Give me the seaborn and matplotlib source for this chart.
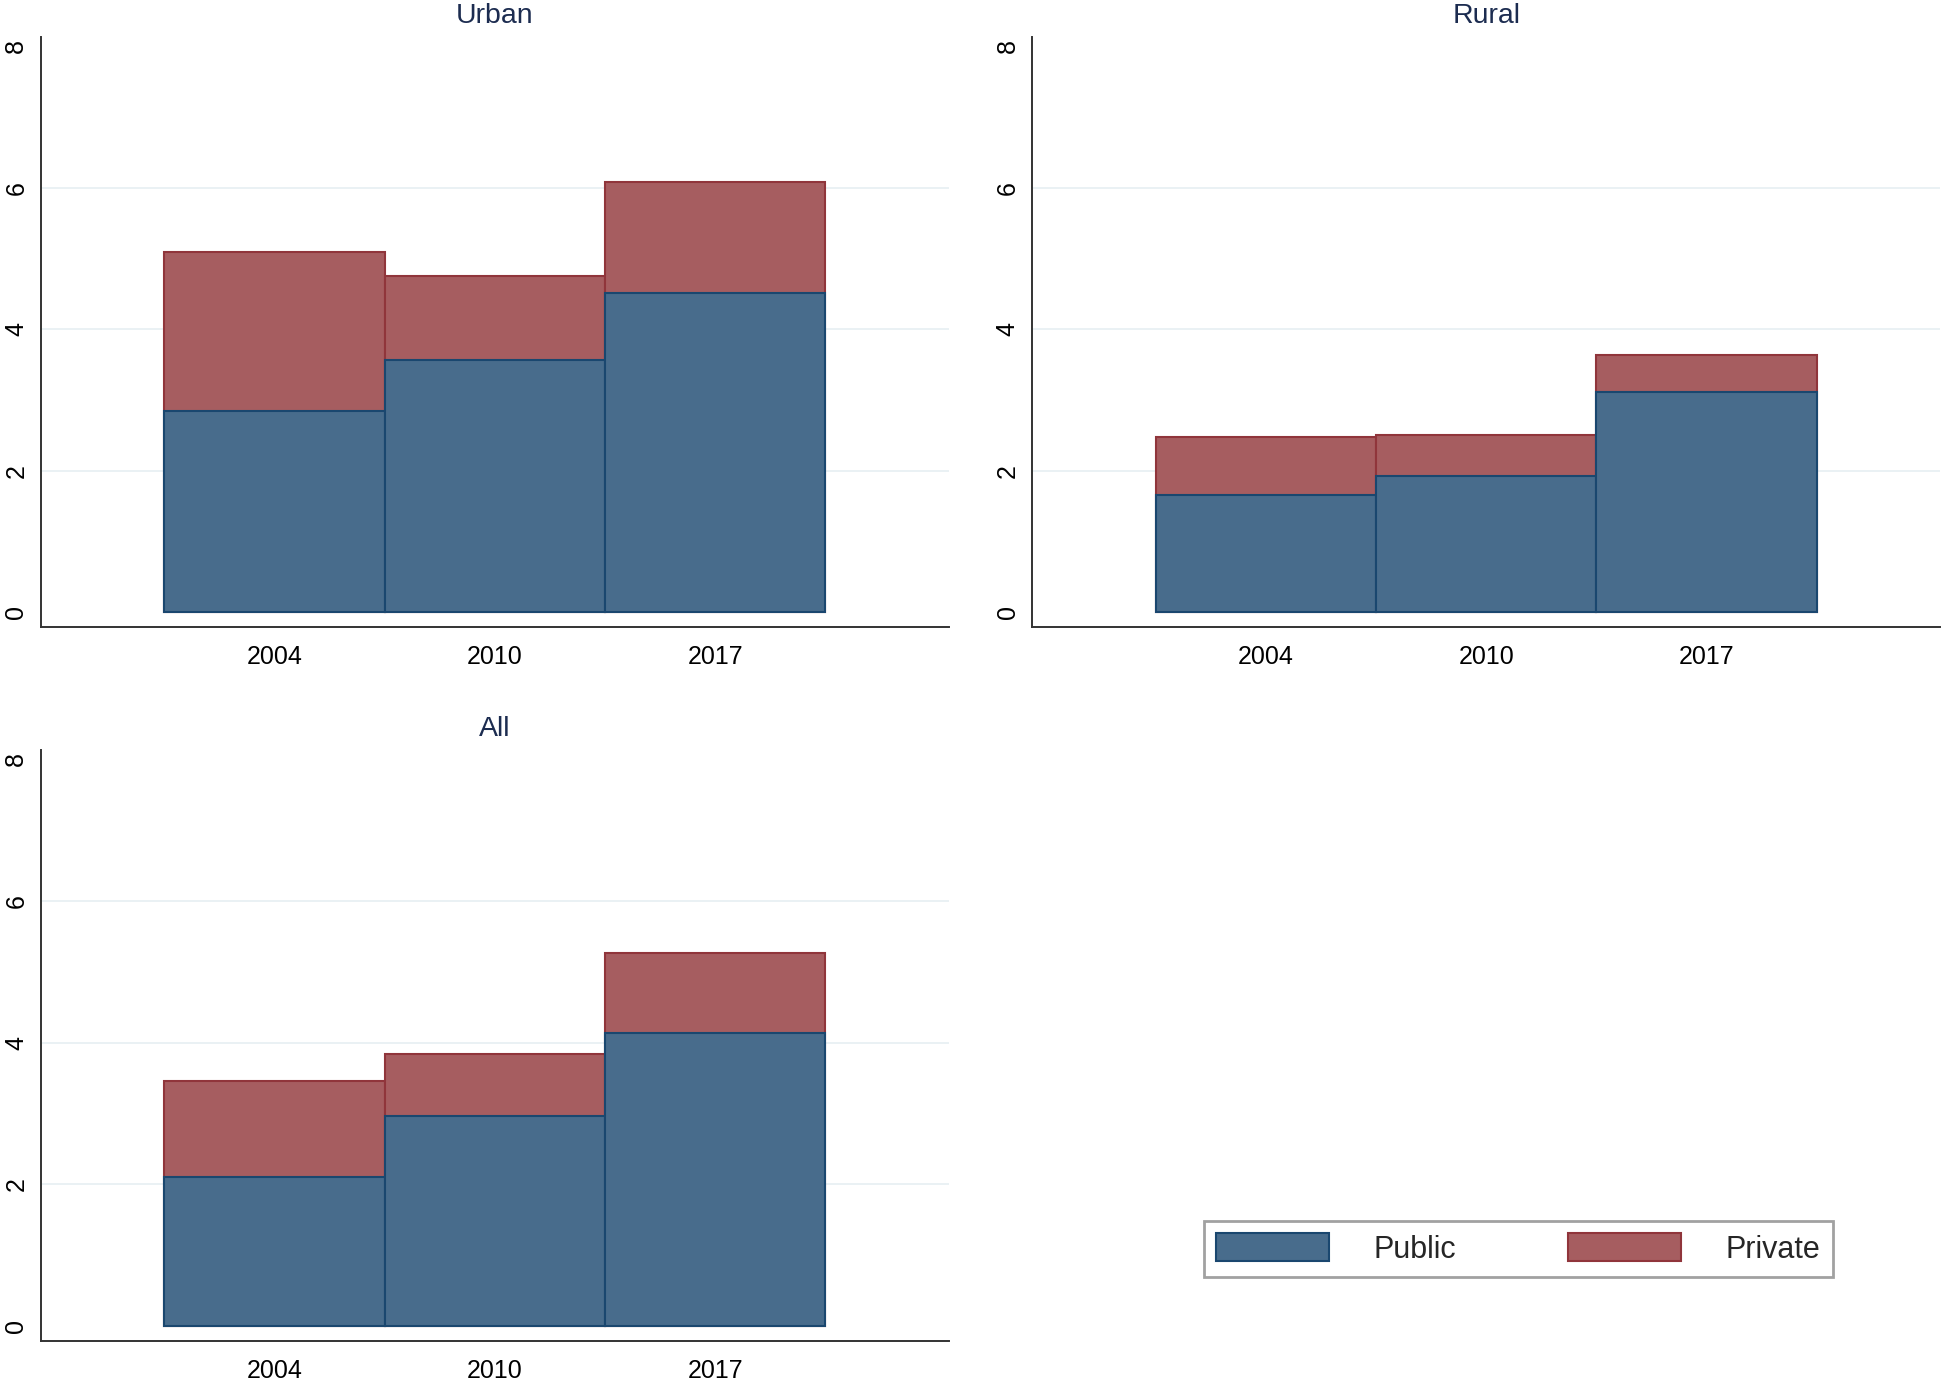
import matplotlib
matplotlib.use("Agg")
import matplotlib.pyplot as plt
import matplotlib.patches as mpatches
import numpy as np
import pandas as pd
import seaborn as sns

# values
years = ["2004", "2010", "2017"]
panels = ["Urban", "Rural", "All"]
urban_public = [2.85, 3.57, 4.52]
urban_private = [2.25, 1.19, 1.57]
rural_public = [1.65, 1.93, 3.12]
rural_private = [0.82, 0.57, 0.52]
all_public = [2.11, 2.96, 4.14]
all_private = [1.35, 0.88, 1.12]
y_ticks = [0, 2, 4, 6, 8]

public_fill = "#486c8c"
public_edge = "#1a476f"
private_fill = "#a65d60"
private_edge = "#90353b"
title_color = "#1c2c50"

sns.set_style("white")
plt.rcParams["font.family"] = ["Liberation Sans", "DejaVu Sans"]

fig = plt.figure(figsize=(19.44, 13.81), dpi=100)
positions = {
    "Urban": [0.021, 0.546, 0.467, 0.427],
    "Rural": [0.531, 0.546, 0.467, 0.427],
    "All": [0.021, 0.029, 0.467, 0.428],
}
series = {
    "Urban": (urban_public, urban_private),
    "Rural": (rural_public, rural_private),
    "All": (all_public, all_private),
}

for name in panels:
    public, private = series[name]
    df = pd.DataFrame({
        "year": years,
        "public": public,
        "total": np.array(public) + np.array(private),
    })
    ax = fig.add_axes(positions[name])
    ax.set_axisbelow(True)
    ax.yaxis.grid(True, color="#e6eff2", linewidth=1.2)

    # total bar first (private on top), then public bar over it
    sns.barplot(data=df, x="year", y="total", ax=ax, color=private_fill,
                saturation=1, width=1, edgecolor=private_edge, linewidth=1.5)
    sns.barplot(data=df, x="year", y="public", ax=ax, color=public_fill,
                saturation=1, width=1, edgecolor=public_edge, linewidth=1.5)

    ax.set_xlim(-1.06, 3.06)
    ax.set_ylim(-0.21, 8.13)
    ax.set_yticks(y_ticks)
    for i, gl in enumerate(ax.get_ygridlines()):
        if y_ticks[i] in (0, 8):
            gl.set_visible(False)
    ax.set_xlabel("")
    ax.set_ylabel("")
    ax.set_title(name, fontsize=20.5, color=title_color, pad=10)

    sns.despine(ax=ax)
    for side in ["left", "bottom"]:
        ax.spines[side].set_color("#333333")
        ax.spines[side].set_linewidth(1.4)
    ax.tick_params(axis="both", direction="out", length=5, width=1.2,
                   color="#333333", labelsize=18, labelcolor="black")
    ax.tick_params(axis="x", pad=8)
    ax.tick_params(axis="y", pad=4)
    for label in ax.get_yticklabels():
        label.set_rotation(90)
        label.set_va("center")

handles = [
    mpatches.Patch(facecolor=public_fill, edgecolor=public_edge, linewidth=1.5, label="Public"),
    mpatches.Patch(facecolor=private_fill, edgecolor=private_edge, linewidth=1.5, label="Private"),
]
leg = fig.legend(handles=handles, loc="center", bbox_to_anchor=(0.781, 0.0956),
                 ncol=2, fontsize=22, frameon=True, fancybox=False,
                 handlelength=3.7, handleheight=1.0, handletextpad=1.47,
                 columnspacing=3.65, borderpad=0.4, borderaxespad=0)
leg.get_frame().set_edgecolor("#8a8a8a")
leg.get_frame().set_linewidth(2)

fig.savefig("out.png", dpi=100, facecolor="white")
